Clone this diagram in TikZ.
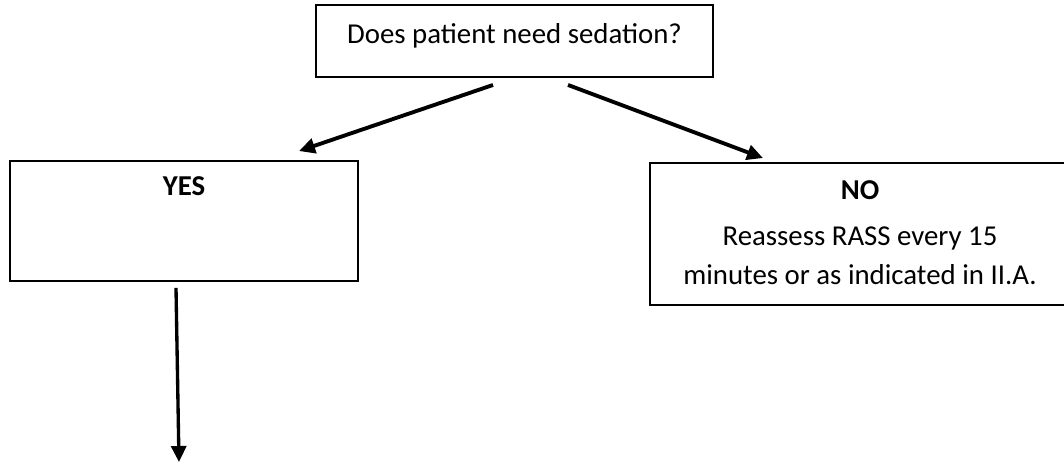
\documentclass[tikz,border=0pt]{standalone}
\usepackage{fontspec}
\setmainfont{Carlito}
\usetikzlibrary{arrows.meta}

\begin{document}
\begin{tikzpicture}[x=0.02cm,y=-0.02cm,
    every node/.style={font=\fontsize{16.4}{22}\selectfont},
    box/.style={draw, line width=1.1pt, inner sep=0pt},
    arr/.style={line width=2.2pt, -{Triangle[length=0.32cm,width=0.3cm]}}]
    \useasboundingbox (0,0) rectangle (1064,464);

        \node[box, minimum width=7.94cm, minimum height=1.44cm, text depth=8pt] (ask) at (514.5,41) {Does patient need sedation?};
        \node[box, minimum width=6.96cm, minimum height=2.4cm,
              label={[anchor=north, yshift=-0.2cm]north:\textbf{YES}}] (yes) at (184,221) {};
        % the NO box runs off the right edge
        \node[box, minimum width=9.2cm, minimum height=2.84cm] (no) at (880,234)
            {\begin{tabular}{@{}c@{}}\textbf{NO}\\[0.16cm] Reassess RASS every 15\\ minutes or as indicated in II.A.\end{tabular}\kern0.8cm};
        \coordinate (next) at (179,462);

        % draw the arrows
        \draw[arr] ([shift={(-21.5,7)}]ask.south) -- ([shift={(115,-9)}]yes.north);
        \draw[arr] ([shift={(53.5,7)}]ask.south) -- ([shift={(-117,-4)}]no.north);
        \draw[arr, line width=1.9pt] ([shift={(-8,6)}]yes.south) -- (next);

    \end{tikzpicture}
\end{document}
